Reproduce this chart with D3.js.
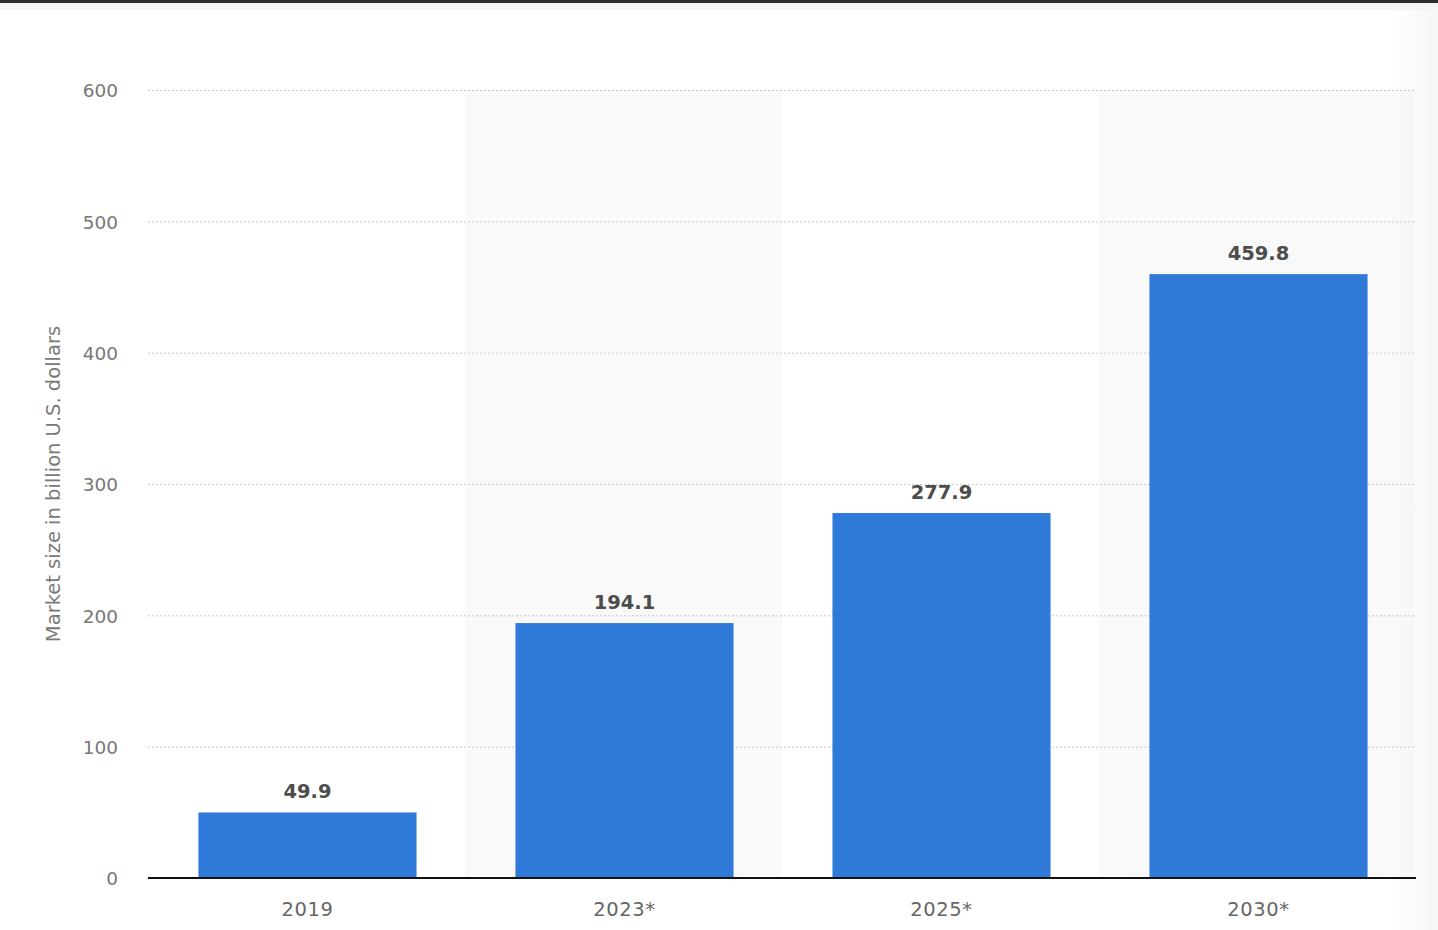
<!DOCTYPE html>
<html><head><meta charset="utf-8">
<script src="https://cdn.jsdelivr.net/npm/d3@7"></script>
<style>
html,body{margin:0;padding:0;background:#fff;}
svg{display:block;font-family:"DejaVu Sans",sans-serif;}
</style></head>
<body><svg id="c" width="1438" height="930"></svg>
<script>
const categories = ["2019","2023*","2025*","2030*"];
const values = [49.9,194.1,277.9,459.8];
const yTicks = [0,100,200,300,400,500,600];
const yTitle = "Market size in billion U.S. dollars";

const svg = d3.select("#c");
const W=1438,H=930;
const m={l:148,r:1415,t:90,b:878};

svg.append("rect").attr("x",0).attr("y",0).attr("width",W).attr("height",10).attr("fill","#f3f4f6");
svg.append("rect").attr("x",0).attr("y",0).attr("width",W).attr("height",3).attr("fill","#2a2a2a");

const x = d3.scaleBand().domain(categories).range([m.l+1,m.r+2]).padding(0);
const y = d3.scaleLinear().domain([0,600]).range([m.b,m.t]);

svg.append("g").selectAll("rect").data(categories.filter((d,i)=>i%2===1)).join("rect")
  .attr("x",d=>x(d)-1).attr("y",m.t).attr("width",d=>Math.min(x.bandwidth(),m.r-(x(d)-1))).attr("height",m.b-m.t)
  .attr("fill","#f9f9f9");

const defs=svg.append("defs");
const g=defs.append("linearGradient").attr("id","rg").attr("x1","0").attr("x2","1").attr("y1","0").attr("y2","0");
g.append("stop").attr("offset","0").attr("stop-color","#f5f6f8").attr("stop-opacity",0);
g.append("stop").attr("offset","1").attr("stop-color","#f5f6f8").attr("stop-opacity",1);
svg.append("rect").attr("x",1390).attr("y",10).attr("width",48).attr("height",H-10).attr("fill","url(#rg)");

const yAxis = d3.axisLeft(y).tickValues(yTicks).tickSize(-(m.r-m.l));
const ga = svg.append("g").attr("transform",`translate(${m.l},0)`).call(yAxis);
ga.select(".domain").remove();
ga.selectAll(".tick line").attr("stroke","#c8c8c8").attr("stroke-dasharray","2,2").attr("stroke-width",1)
  .filter(d=>d===0).remove();
ga.selectAll(".tick text").attr("fill","#777").attr("font-size",18.5).attr("text-anchor","end")
  .attr("x",-30).attr("dy","0.36em").attr("font-family","\"DejaVu Sans\",sans-serif");

const bw = x.bandwidth()*0.688;
svg.append("g").selectAll("rect").data(values).join("rect")
  .attr("x",(d,i)=>x(categories[i])+(x.bandwidth()-bw)/2)
  .attr("y",d=>y(d)).attr("width",bw).attr("height",d=>y(0)-y(d))
  .attr("fill","#2f7ad9");

svg.append("g").selectAll("text").data(values).join("text")
  .attr("x",(d,i)=>x(categories[i])+x.bandwidth()/2)
  .attr("y",d=>y(d)-14)
  .attr("text-anchor","middle").attr("font-size",19.5).attr("font-weight","bold").attr("fill","#4d4d4d")
  .text(d=>d.toFixed(1));

const xa = svg.append("g").attr("transform",`translate(0,${m.b})`).call(d3.axisBottom(x).tickSize(0).tickPadding(24));
xa.select(".domain").attr("stroke","#111").attr("stroke-width",2).attr("d",`M${m.l},0H${m.r+1}`);
xa.selectAll(".tick text").attr("fill","#666").attr("font-size",19.5).attr("letter-spacing",0.6)
  .attr("font-family","\"DejaVu Sans\",sans-serif");

svg.append("text").attr("transform",`translate(60,${(325+643)/2}) rotate(-90)`)
  .attr("text-anchor","middle").attr("font-size",19.5).attr("fill","#7a7a7a").text(yTitle);
</script></body></html>
